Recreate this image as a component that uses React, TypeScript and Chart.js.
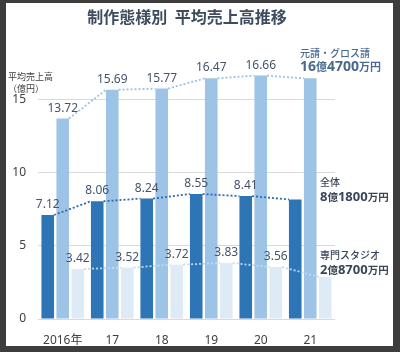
import React, { useEffect, useRef } from "react";
import { Chart, registerables } from "chart.js";

Chart.register(...registerables);

const categories = ["2016年", "17", "18", "19", "20", "21"];
const totalValues = [7.12, 8.06, 8.24, 8.55, 8.41, 8.18];
const primeValues = [13.72, 15.69, 15.77, 16.47, 16.66, 16.47];
const studioValues = [3.42, 3.52, 3.72, 3.83, 3.56, 2.87];
const yTicks = [0, 5, 10, 15];

const titleText = "制作態様別  平均売上高推移";
const yTitle1 = "平均売上高";
const yTitle2 = "（億円）";

const primeNote = ["元請・グロス請", "16", "億", "4700", "万円"];
const totalNote = ["全体", "8", "億", "1800", "万円"];
const studioNote = ["専門スタジオ", "2", "億", "8700", "万円"];

const NUM_FONT = "'Noto Sans', 'Noto Sans CJK JP', sans-serif";
const JP_FONT = "'Noto Sans CJK JP', 'Noto Sans', sans-serif";

const seriesColors = ["#2e75b6", "#9dc3e6", "#deebf7"];
const lineColors = ["#2e6aa8", "#9dc3e6", "#c3d9ef"];

function drawNote(ctx: CanvasRenderingContext2D, x: number, y1: number, y2: number, parts: string[], color: string, big: number, small: number, head: number) {
  ctx.save();
  ctx.fillStyle = color;
  ctx.textAlign = "left";
  ctx.textBaseline = "middle";
  ctx.font = `500 ${head}px ${JP_FONT}`;
  ctx.fillText(parts[0], x, y1);
  ctx.textBaseline = "alphabetic";
  let cx = x;
  const base = y2 + big * 0.36;
  const segs: [string, boolean][] = [
    [parts[1], true],
    [parts[2], false],
    [parts[3], true],
    [parts[4], false],
  ];
  for (const [t, isBig] of segs) {
    ctx.font = isBig ? `bold ${big}px ${NUM_FONT}` : `bold ${small}px ${JP_FONT}`;
    ctx.fillText(t, cx, base);
    cx += ctx.measureText(t).width;
  }
  ctx.restore();
}

const overlayPlugin = {
  id: "overlay",
  afterDatasetsDraw(chart: any) {
    const ctx: CanvasRenderingContext2D = chart.ctx;
    // dotted connector lines
    for (let di = 0; di < 3; di++) {
      const meta = chart.getDatasetMeta(di);
      ctx.save();
      ctx.strokeStyle = lineColors[di];
      ctx.lineWidth = di === 0 ? 1.8 : 1.8;
      ctx.setLineDash([2, 2]);
      ctx.beginPath();
      for (let i = 0; i < meta.data.length - 1; i++) {
        const a = meta.data[i].getProps(["x", "y", "width"], true);
        const b = meta.data[i + 1].getProps(["x", "y", "width"], true);
        ctx.moveTo(a.x + a.width / 2, a.y);
        ctx.lineTo(b.x - b.width / 2, b.y);
      }
      ctx.stroke();
      ctx.restore();
    }
    // value labels
    ctx.save();
    ctx.font = `12px ${NUM_FONT}`;
    ctx.fillStyle = "#44546a";
    ctx.textAlign = "center";
    ctx.textBaseline = "alphabetic";
    for (let di = 0; di < 3; di++) {
      const meta = chart.getDatasetMeta(di);
      const vals = chart.data.datasets[di].data as number[];
      for (let i = 0; i < meta.data.length - 1; i++) {
        const p = meta.data[i].getProps(["x", "y"], true);
        ctx.fillText(vals[i].toFixed(2), p.x, p.y - 7);
      }
    }
    ctx.restore();
  },
  afterDraw(chart: any) {
    const ctx: CanvasRenderingContext2D = chart.ctx;
    ctx.save();
    ctx.fillStyle = "#3e4c5e";
    ctx.textAlign = "center";
    ctx.textBaseline = "middle";
    ctx.font = `bold 16px ${JP_FONT}`;
    ctx.fillText(titleText, 187, 17);
    ctx.fillStyle = "#404040";
    ctx.textAlign = "left";
    ctx.font = `9px ${JP_FONT}`;
    ctx.fillText(yTitle1, 8, 77);
    ctx.fillText(yTitle2, 8, 89);
    ctx.restore();
    drawNote(ctx, 300, 53, 66, primeNote, "#4a6a92", 14, 11, 10);
    drawNote(ctx, 320, 182, 196, totalNote, "#3a4656", 13, 10.5, 10);
    drawNote(ctx, 320, 255, 269, studioNote, "#3a4656", 13, 10.5, 10);
  },
};

export default function App() {
  const ref = useRef<HTMLCanvasElement | null>(null);
  useEffect(() => {
    if (!ref.current) return;
    const chart = new Chart(ref.current, {
      type: "bar",
      data: {
        labels: categories,
        datasets: [
          { label: "全体", data: totalValues, backgroundColor: seriesColors[0] },
          { label: "元請・グロス請", data: primeValues, backgroundColor: seriesColors[1] },
          { label: "専門スタジオ", data: studioValues, backgroundColor: seriesColors[2] },
        ],
      },
      options: {
        animation: false,
        responsive: false,
        layout: { padding: { left: 0, right: 65, top: 56, bottom: 0 } },
        datasets: {
          bar: { categoryPercentage: 0.91, barPercentage: 0.84 },
        },
        plugins: {
          legend: { display: false },
          title: { display: false },
          tooltip: { enabled: false },
        },
        scales: {
          x: {
            grid: { display: false },
            border: { display: false },
            ticks: {
              color: "#404040",
              font: { size: 12, family: NUM_FONT },
              padding: 6,
              maxRotation: 0,
            },
            afterFit: (s: any) => {
              s.height = 33;
            },
          },
          y: {
            min: 0,
            max: 18,
            grid: { color: "#d9d9d9", lineWidth: 1, drawTicks: false },
            border: { display: false },
            afterBuildTicks: (s: any) => {
              s.ticks = yTicks.map((v) => ({ value: v }));
            },
            ticks: {
              color: "#404040",
              font: { size: 12, family: NUM_FONT },
              padding: 12,
            },
            afterFit: (s: any) => {
              s.width = 38;
            },
          },
        },
      },
      plugins: [overlayPlugin],
    });
    return () => chart.destroy();
  }, []);
  return (
    <div style={{ position: "fixed", left: 0, top: 0, width: 400, height: 352, background: "#3d3d3d" }}>
      <div style={{ position: "absolute", left: 6, top: 3, width: 387, height: 343, background: "#ffffff" }} />
      <canvas ref={ref} width={400} height={352} style={{ position: "absolute", left: 0, top: 0, width: 400, height: 352 }} />
    </div>
  );
}
